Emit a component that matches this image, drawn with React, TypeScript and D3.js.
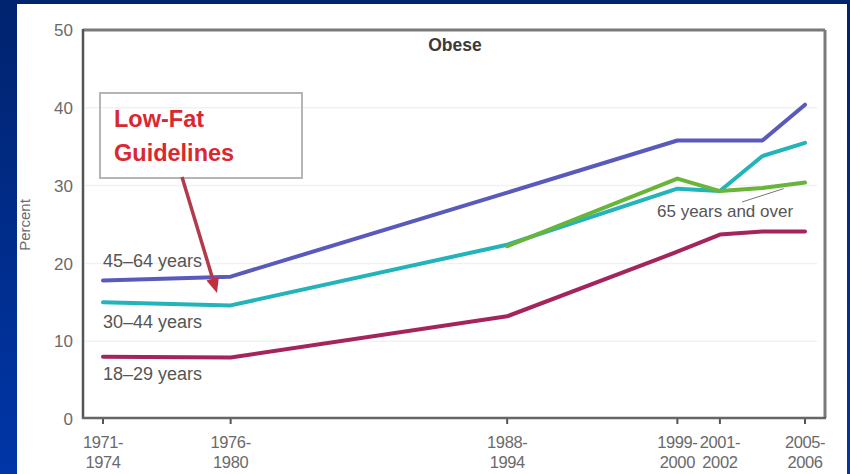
import React from "react";
import * as d3 from "d3";

const periods = ["1971–1974", "1976–1980", "1988–1994", "1999–2000", "2001–2002", "2003–2004", "2005–2006"];
const midYears = [1972.5, 1978.5, 1991.5, 1999.5, 2001.5, 2003.5, 2005.5];
const labelledPeriods = ["1971–1974", "1976–1980", "1988–1994", "1999–2000", "2001–2002", "2005–2006"];
const yTicks = [0, 10, 20, 30, 40, 50];

const age18to29 = [8.0, 7.9, 13.2, 21.5, 23.7, 24.1, 24.1];
const age30to44 = [15.0, 14.6, 22.4, 29.6, 29.3, 33.8, 35.5];
const age45to64 = [17.8, 18.3, 29.1, 35.8, 35.8, 35.8, 40.4];
const age65plus: (number | null)[] = [null, null, 22.2, 30.9, 29.3, 29.7, 30.4];

const W = 850;
const H = 474;
const plot = { left: 83, right: 825, top: 30, bottom: 419 };

const x = d3.scaleLinear().domain([1972.5, 2005.5]).range([103, 805]);
const y = d3.scaleLinear().domain([0, 50]).range([plot.bottom, plot.top]);

const line = d3
  .line<number | null>()
  .defined((d) => d !== null)
  .x((_, i) => x(midYears[i]))
  .y((d) => y(d as number));

const series = [
  { name: "18–29 years", values: age18to29, color: "#a3255c" },
  { name: "45–64 years", values: age45to64, color: "#5a5abd" },
  { name: "30–44 years", values: age30to44, color: "#22b3bb" },
  { name: "65 years and over", values: age65plus, color: "#68b53a" },
];

const font = "'Liberation Sans', Arial, sans-serif";

export default function App() {
  const arrowStart = { x: 182, y: 177 };
  const arrowTip = { x: 217, y: 293 };
  const ang = Math.atan2(arrowTip.y - arrowStart.y, arrowTip.x - arrowStart.x);
  const headLen = 15;
  const headW = 6.5;
  const bx = arrowTip.x - headLen * Math.cos(ang);
  const by = arrowTip.y - headLen * Math.sin(ang);
  const head = [
    [arrowTip.x, arrowTip.y],
    [bx + headW * Math.sin(ang), by - headW * Math.cos(ang)],
    [bx - headW * Math.sin(ang), by + headW * Math.cos(ang)],
  ]
    .map((p) => p.join(","))
    .join(" ");

  return (
    <svg
      width={W}
      height={H}
      style={{ position: "fixed", left: 0, top: 0, display: "block" }}
      fontFamily={font}
    >
      <defs>
        <linearGradient id="bg" x1="0" y1="0" x2="0" y2="1">
          <stop offset="0" stopColor="#00236e" />
          <stop offset="1" stopColor="#0036a8" />
        </linearGradient>
      </defs>
      <rect x={0} y={0} width={W} height={H} fill="url(#bg)" />
      <rect x={17} y={4} width={830} height={H - 4} fill="#ffffff" />

      {/* faint gridlines */}
      {yTicks.slice(1, -1).map((t) => (
        <line key={t} x1={plot.left + 2} x2={817} y1={y(t)} y2={y(t)} stroke="#f1f1f1" strokeWidth={1.5} />
      ))}

      {/* frame */}
      <line x1={plot.left} x2={plot.right} y1={plot.top} y2={plot.top} stroke="#7a7a7a" strokeWidth={3} />
      <line x1={plot.right} x2={plot.right} y1={plot.top} y2={plot.bottom - 1} stroke="#7a7a7a" strokeWidth={3} />
      <line x1={plot.left} x2={plot.left} y1={plot.top - 1} y2={plot.bottom} stroke="#555" strokeWidth={2.5} />
      <line x1={plot.left - 1} x2={plot.right + 1} y1={plot.bottom - 1} y2={plot.bottom - 1} stroke="#666" strokeWidth={2.5} />

      {/* y tick labels */}
      {yTicks.map((t) => (
        <text key={t} x={73} y={y(t)} dy="0.36em" textAnchor="end" fontSize={17} fill="#6a6a6a">
          {t}
        </text>
      ))}
      <text
        transform={`translate(30,${225}) rotate(-90)`}
        textAnchor="middle"
        fontSize={15}
        fill="#6a6a6a"
      >
        Percent
      </text>

      {/* x ticks and labels */}
      {periods.map((p, i) => {
        const px = x(midYears[i]);
        const labelled = labelledPeriods.includes(p);
        const [a, b] = p.split("–");
        return (
          <g key={p}>
            {labelled && <line x1={px} x2={px} y1={plot.bottom} y2={plot.bottom + 5} stroke="#555" strokeWidth={2} />}
            {labelled && (
              <text x={px} y={448} textAnchor="middle" fontSize={16.5} fill="#6a6a6a" letterSpacing={-0.4}>
                {a + "-"}
              </text>
            )}
            {labelled && (
              <text x={px} y={468} textAnchor="middle" fontSize={16.5} fill="#6a6a6a" letterSpacing={-0.4}>
                {b}
              </text>
            )}
          </g>
        );
      })}

      {/* title */}
      <text x={455} y={51} textAnchor="middle" fontSize={17.5} fontWeight="bold" fill="#3a3a3a">
        Obese
      </text>

      {/* lines */}
      {series.map((s) => (
        <path
          key={s.name}
          d={line(s.values) || ""}
          fill="none"
          stroke={s.color}
          strokeWidth={4}
          strokeLinejoin="round"
          strokeLinecap="round"
        />
      ))}

      {/* series labels */}
      <text x={103} y={267} fontSize={18} fill="#555">45–64 years</text>
      <text x={103} y={328} fontSize={18} fill="#555">30–44 years</text>
      <text x={103} y={380} fontSize={18} fill="#555">18–29 years</text>
      <line x1={742} y1={202} x2={x(2004.5)} y2={y(30.0) + 3} stroke="#777" strokeWidth={1} />
      <text x={657} y={217} fontSize={17} fill="#555">65 years and over</text>

      {/* annotation */}
      <rect x={100} y={93} width={202} height={85} fill="#ffffff" fillOpacity={0} stroke="#b5b5b5" strokeWidth={2} />
      <text x={114} y={127} fontSize={23.5} fontWeight="bold" fill="#d9282f">Low-Fat</text>
      <text x={114} y={161} fontSize={23.5} fontWeight="bold" fill="#d9282f">Guidelines</text>
      <line x1={arrowStart.x} y1={arrowStart.y} x2={bx} y2={by} stroke="#b23a4a" strokeWidth={3.5} />
      <polygon points={head} fill="#c23040" />
    </svg>
  );
}
